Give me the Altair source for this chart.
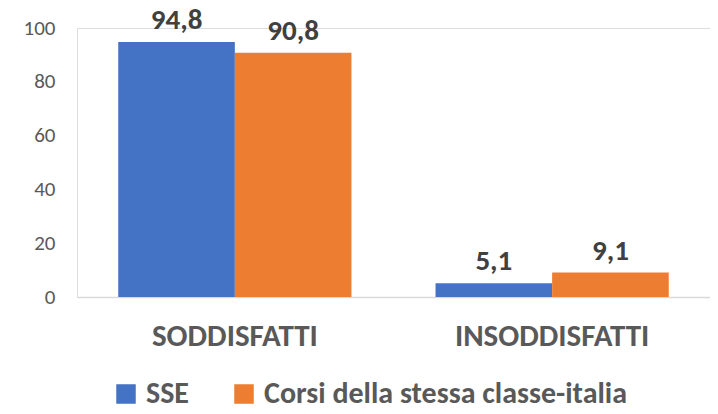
import altair as alt
import pandas as pd

categories = ["SODDISFATTI", "INSODDISFATTI"]
series = ["SSE", "Corsi della stessa classe-italia"]
sse_values = [94.8, 5.1]
corsi_values = [90.8, 9.1]
colors = ["#4472C4", "#ED7D31"]
y_ticks = [0, 20, 40, 60, 80, 100]

rows = []
for i, c in enumerate(categories):
    for s, vals in zip(series, [sse_values, corsi_values]):
        v = vals[i]
        rows.append({"cat": c, "serie": s, "val": v,
                     "label": f"{v:.1f}".replace(".", ",")})
df = pd.DataFrame(rows)

FONT = "Carlito, Lato, sans-serif"

x = alt.X("cat:N", sort=categories, title=None,
          scale=alt.Scale(paddingInner=0.265, paddingOuter=0.13),
          axis=alt.Axis(labelAngle=0, ticks=False, domainColor="#D9D9D9",
                        domainWidth=1.5, labelFont=FONT, labelFontSize=31,
                        labelFontWeight="bold", labelColor="#595959",
                        labelPadding=24, labelLimit=400))
xo = alt.XOffset("serie:N", sort=series)
y = alt.Y("val:Q", title=None,
          scale=alt.Scale(domain=[0, 100]),
          axis=alt.Axis(values=y_ticks, grid=False,
                        domain=False, ticks=False, labelFont=FONT,
                        labelFontSize=21, labelColor="#595959",
                        labelPadding=22))
color = alt.Color("serie:N", sort=series,
                  scale=alt.Scale(domain=series, range=colors),
                  legend=alt.Legend(title=None, orient="none", direction="horizontal",
                                    legendX=34, legendY=351,
                                    symbolType="square", symbolSize=380,
                                    symbolStrokeWidth=0,
                                    labelFont=FONT, labelFontSize=30,
                                    labelFontWeight="bold", labelColor="#595959",
                                    columnPadding=40, labelOffset=5,
                                    labelLimit=500))

bars = alt.Chart(df).mark_bar().encode(x=x, xOffset=xo, y=y, color=color)
labels = alt.Chart(df).mark_text(dy=-22, font=FONT, fontSize=29,
                                 fontWeight="bold", color="#404040").encode(
    x=alt.X("cat:N", sort=categories), xOffset=xo, y="val:Q", text="label:N")

chart = (bars + labels).properties(
    width=633, height=269,
    autosize=alt.AutoSizeParams(type="none"),
    padding={"left": 69, "top": 20, "right": 0, "bottom": 113},
).configure_view(stroke=None).configure(background="white")

chart.save("out.html", embed_options={"renderer": "svg", "actions": False})
